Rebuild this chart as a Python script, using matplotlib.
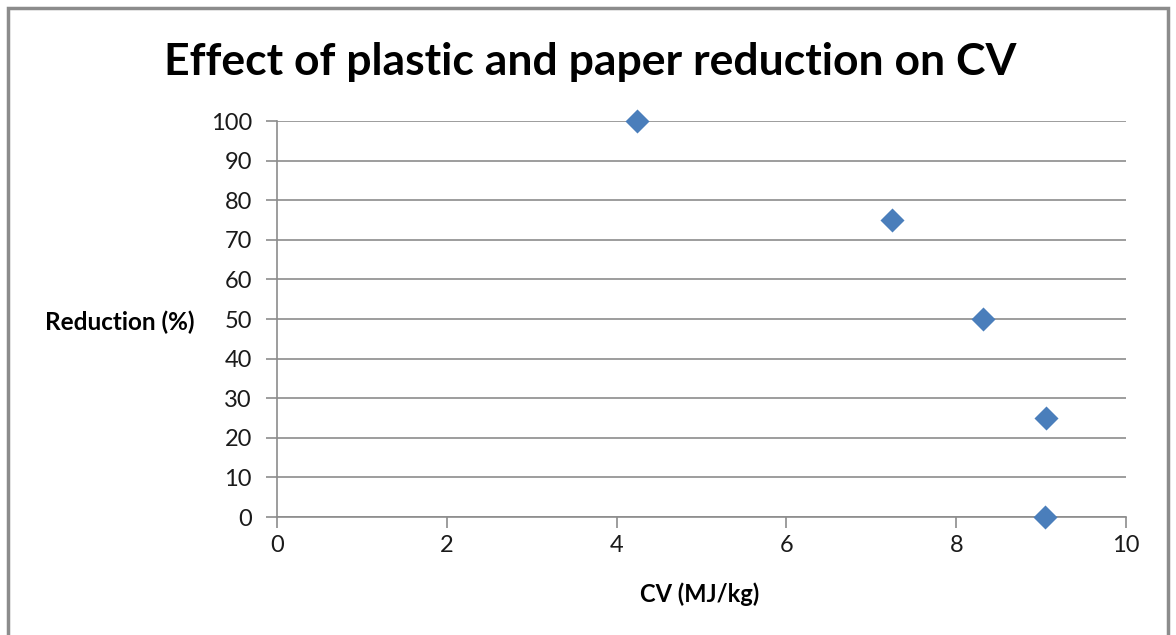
import matplotlib.pyplot as plt
from matplotlib.patches import Rectangle

# data
cv = [4.24, 7.24, 8.32, 9.06, 9.05]
reduction = [100, 75, 50, 25, 0]

x_ticks = [0, 2, 4, 6, 8, 10]
y_ticks = [0, 10, 20, 30, 40, 50, 60, 70, 80, 90, 100]

plt.rcParams['font.family'] = ['Lato', 'DejaVu Sans']

fig = plt.figure(figsize=(11.76, 6.35), dpi=100)
fig.patch.set_facecolor('white')

# outer chart frame
fig.patches.append(Rectangle((8 / 1176, -0.02), 1160 / 1176, (635 - 8) / 635 + 0.02,
                             transform=fig.transFigure, fill=False,
                             edgecolor='#8c8c8c', linewidth=2.5))

ax = fig.add_axes([277 / 1176, (635 - 517) / 635, 849 / 1176, 396 / 635])

ax.scatter(cv, reduction, marker='D', s=150, color='#4a7ebb', zorder=3,
           clip_on=False, linewidths=0)

ax.set_xlim(0, 10)
ax.set_ylim(0, 100)
ax.set_xticks(x_ticks)
ax.set_yticks(y_ticks)
ax.yaxis.grid(True, color='#8c8c8c', linewidth=1.2)
ax.set_axisbelow(True)

for side in ['top', 'right']:
    ax.spines[side].set_visible(False)
for side in ['left', 'bottom']:
    ax.spines[side].set_color('#8c8c8c')
    ax.spines[side].set_linewidth(1.2)

ax.tick_params(axis='both', direction='out', length=8, width=1.2,
               color='#8c8c8c', labelsize=17, labelcolor='#1a1a1a', pad=5)
ax.tick_params(axis='y', pad=10)

fig.text(700 / 1176, 1 - 594 / 635, 'CV (MJ/kg)', fontsize=17,
         fontweight='bold', ha='center', va='center')
fig.text(45 / 1176, 1 - 322 / 635, 'Reduction (%)', fontsize=17.5,
         fontweight='bold', ha='left', va='center')

fig.text(590 / 1176, 1 - 62 / 635, 'Effect of plastic and paper reduction on CV',
         fontsize=32, fontweight='bold', ha='center', va='center')

fig.savefig('out.png', dpi=100)
